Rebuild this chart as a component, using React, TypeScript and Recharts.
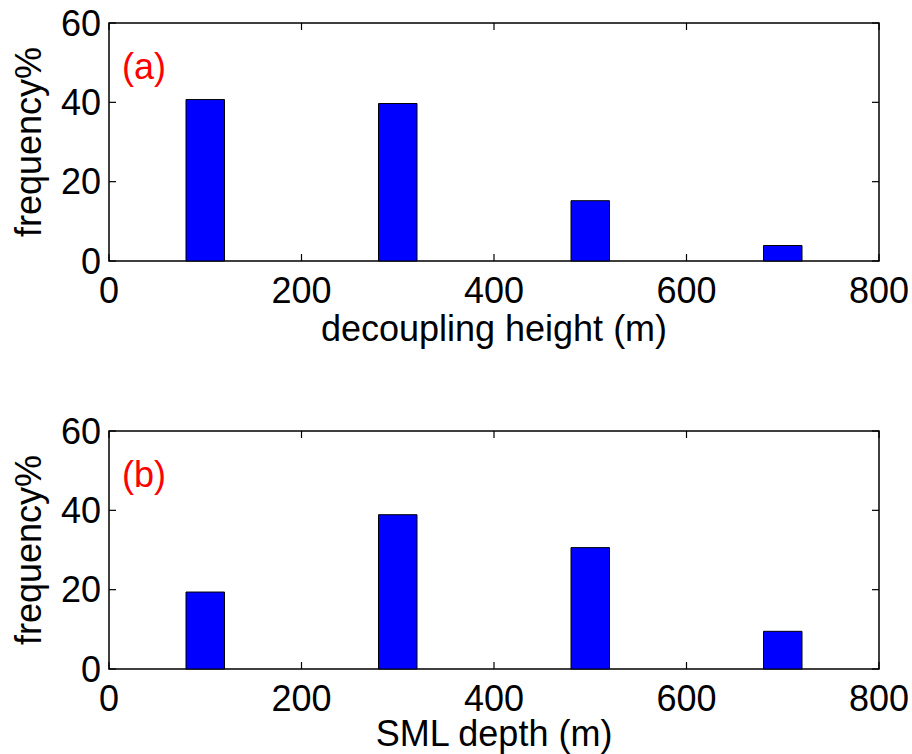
import React from 'react';
import { BarChart, Bar, XAxis, YAxis, ReferenceArea, Label } from 'recharts';

// bin centres (m) and frequency (%) for each panel
const binCenters = [100, 300, 500, 700];
const decouplingFreq = [40.7, 39.7, 15.2, 3.9];
const smlFreq = [19.4, 38.9, 30.6, 9.5];
const xTicks = [0, 200, 400, 600, 800];
const yTicks = [0, 20, 40, 60];

const FONT = '"Liberation Sans", Arial, Helvetica, sans-serif';
const FONT_SIZE = 36;
const WIDTH = 912;
const PANEL_H = 377;
const LEFT = 109;
const RIGHT = 879;
const TICK_LEN = 7;
const BAR_WIDTH_M = 40;

const barPx = (BAR_WIDTH_M * (RIGHT - LEFT)) / 800;

interface PanelProps {
  tag: string;
  xLabel: string;
  values: number[];
  top: number;
  bottom: number;
  labelGap: number;
}

function Panel({ tag, xLabel, values, top, bottom, labelGap }: PanelProps) {
  const data = binCenters.map((c, i) => ({ center: c, freq: values[i] }));
  const plotTop = top;
  const plotBottom = PANEL_H - bottom - 80;

  const XTick = (props: any) => {
    const { x, y, payload } = props;
    return (
      <g>
        <line x1={x} x2={x} y1={plotBottom} y2={plotBottom - TICK_LEN} stroke="#000" strokeWidth={1.2} />
        <line x1={x} x2={x} y1={plotTop} y2={plotTop + TICK_LEN} stroke="#000" strokeWidth={1.2} />
        <text x={x} y={y + 34} textAnchor="middle" fontSize={FONT_SIZE} fontFamily={FONT} fill="#000">
          {payload.value}
        </text>
      </g>
    );
  };

  const YTick = (props: any) => {
    const { x, y, payload } = props;
    return (
      <g>
        <line x1={LEFT} x2={LEFT + TICK_LEN} y1={y} y2={y} stroke="#000" strokeWidth={1.2} />
        <line x1={RIGHT} x2={RIGHT - TICK_LEN} y1={y} y2={y} stroke="#000" strokeWidth={1.2} />
        <text x={x} y={y} textAnchor="end" dominantBaseline="central" fontSize={FONT_SIZE} fontFamily={FONT} fill="#000">
          {payload.value}
        </text>
      </g>
    );
  };

  return (
    <BarChart
      width={WIDTH}
      height={PANEL_H}
      data={data}
      margin={{ top, right: WIDTH - RIGHT, bottom, left: 0 }}
    >
      <XAxis
        dataKey="center"
        type="number"
        domain={[0, 800]}
        ticks={xTicks}
        height={80}
        axisLine={false}
        tickLine={false}
        tick={<XTick />}
        interval={0}
      >
        <Label
          content={({ viewBox }: any) => (
            <text
              x={viewBox.x + viewBox.width / 2}
              y={viewBox.y + labelGap}
              textAnchor="middle"
              dominantBaseline="central"
              fontSize={FONT_SIZE}
              fontFamily={FONT}
              fill="#000"
            >
              {xLabel}
            </text>
          )}
        />
      </XAxis>
      <YAxis
        type="number"
        domain={[0, 60]}
        ticks={yTicks}
        width={LEFT}
        axisLine={false}
        tickLine={false}
        tick={<YTick />}
        interval={0}
      >
        <Label
          content={({ viewBox }: any) => {
            const cy = viewBox.y + viewBox.height / 2;
            return (
              <text
                x={28}
                y={cy}
                transform={`rotate(-90, 28, ${cy})`}
                textAnchor="middle"
                dominantBaseline="central"
                fontSize={FONT_SIZE}
                fontFamily={FONT}
                fill="#000"
              >
                frequency%
              </text>
            );
          }}
        />
      </YAxis>
      <Bar
        dataKey="freq"
        fill="#0000ff"
        stroke="#000"
        strokeWidth={1}
        barSize={barPx}
        isAnimationActive={false}
      />
      <ReferenceArea
        x1={0}
        x2={800}
        y1={0}
        y2={60}
        fill="none"
        fillOpacity={0}
        stroke="#000"
        strokeWidth={1.5}
        strokeOpacity={1}
      >
        <Label
          content={({ viewBox }: any) => (
            <text x={viewBox.x + 13} y={viewBox.y + 56} fontSize={FONT_SIZE} fontFamily={FONT} fill="#ff0000">
              {tag}
            </text>
          )}
        />
      </ReferenceArea>
    </BarChart>
  );
}

export default function App() {
  return (
    <div style={{ position: 'absolute', left: 0, top: 0, width: WIDTH, height: 754, background: '#fff' }}>
      <Panel tag="(a)" xLabel="decoupling height (m)" values={decouplingFreq} top={23} bottom={36} labelGap={67} />
      <Panel tag="(b)" xLabel="SML depth (m)" values={smlFreq} top={54} bottom={5} labelGap={64} />
    </div>
  );
}
